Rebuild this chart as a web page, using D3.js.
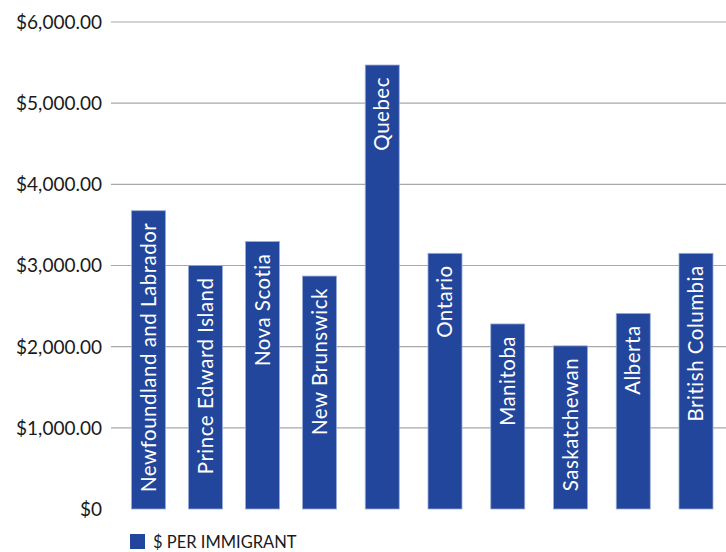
<!DOCTYPE html>
<html>
<head>
<meta charset="utf-8">
<script src="https://cdn.jsdelivr.net/npm/d3@7/dist/d3.min.js"></script>
<style>
  html, body { margin: 0; padding: 0; background: #fff; }
  svg { display: block; font-family: Lato, "Noto Sans", sans-serif; }
</style>
</head>
<body>
<script>
// Provinces and spending per immigrant
const provinces = ["Newfoundland and Labrador", "Prince Edward Island", "Nova Scotia", "New Brunswick",
  "Quebec", "Ontario", "Manitoba", "Saskatchewan", "Alberta", "British Columbia"];
const perImmigrant = [3675, 3000, 3295, 2870, 5470, 3150, 2280, 2010, 2410, 3150];
const yTicks = [0, 1000, 2000, 3000, 4000, 5000, 6000];
const seriesName = "$ PER IMMIGRANT";

const W = 726, H = 552;
const svg = d3.select("body").append("svg").attr("width", W).attr("height", H);

const y = d3.scaleLinear().domain([0, 6000]).range([509, 22]);
// piecewise position scale for the columns' left edges
const x = d3.scaleLinear().domain([0, 3, 9]).range([131.5, 302.5, 679]);
const barW = 34;

const fmt = v => v === 0 ? "$0" : "$" + d3.format(",.2f")(v);

// grid lines
svg.append("g").selectAll("line").data(yTicks.filter(t => t > 0)).join("line")
  .attr("x1", 111).attr("x2", W)
  .attr("y1", d => y(d)).attr("y2", d => y(d))
  .attr("stroke", "#a8a8a8").attr("stroke-width", 1.2);

// y axis labels
svg.append("g").selectAll("text").data(yTicks).join("text")
  .attr("x", 102).attr("y", d => y(d)).attr("dy", "0.36em")
  .attr("text-anchor", "end").attr("font-size", 19).attr("fill", "#1a1a1a")
  .text(fmt);

// bars
const bars = svg.append("g").selectAll("g").data(provinces).join("g");
bars.append("rect")
  .attr("x", (d, i) => x(i)).attr("width", barW)
  .attr("y", (d, i) => y(perImmigrant[i]))
  .attr("height", (d, i) => y(0) - y(perImmigrant[i]))
  .attr("fill", "#22469b").attr("stroke", "#9aabd6").attr("stroke-width", 0.8);

// in-bar labels, anchored near the top of each column
bars.append("text")
  .attr("transform", (d, i) => `translate(${x(i) + barW / 2},${y(perImmigrant[i]) + 12}) rotate(-90)`)
  .attr("dy", "0.35em").attr("text-anchor", "end")
  .attr("font-size", 20.5).attr("letter-spacing", 0.5).attr("fill", "#fff")
  .text(d => d);

// legend
const leg = svg.append("g");
leg.append("rect").attr("x", 130).attr("y", 534).attr("width", 15).attr("height", 15).attr("fill", "#22469b");
leg.append("text").attr("x", 153).attr("y", 542).attr("dy", "0.36em")
  .attr("font-size", 16.5).attr("fill", "#1a1a1a").text(seriesName);
</script>
</body>
</html>
